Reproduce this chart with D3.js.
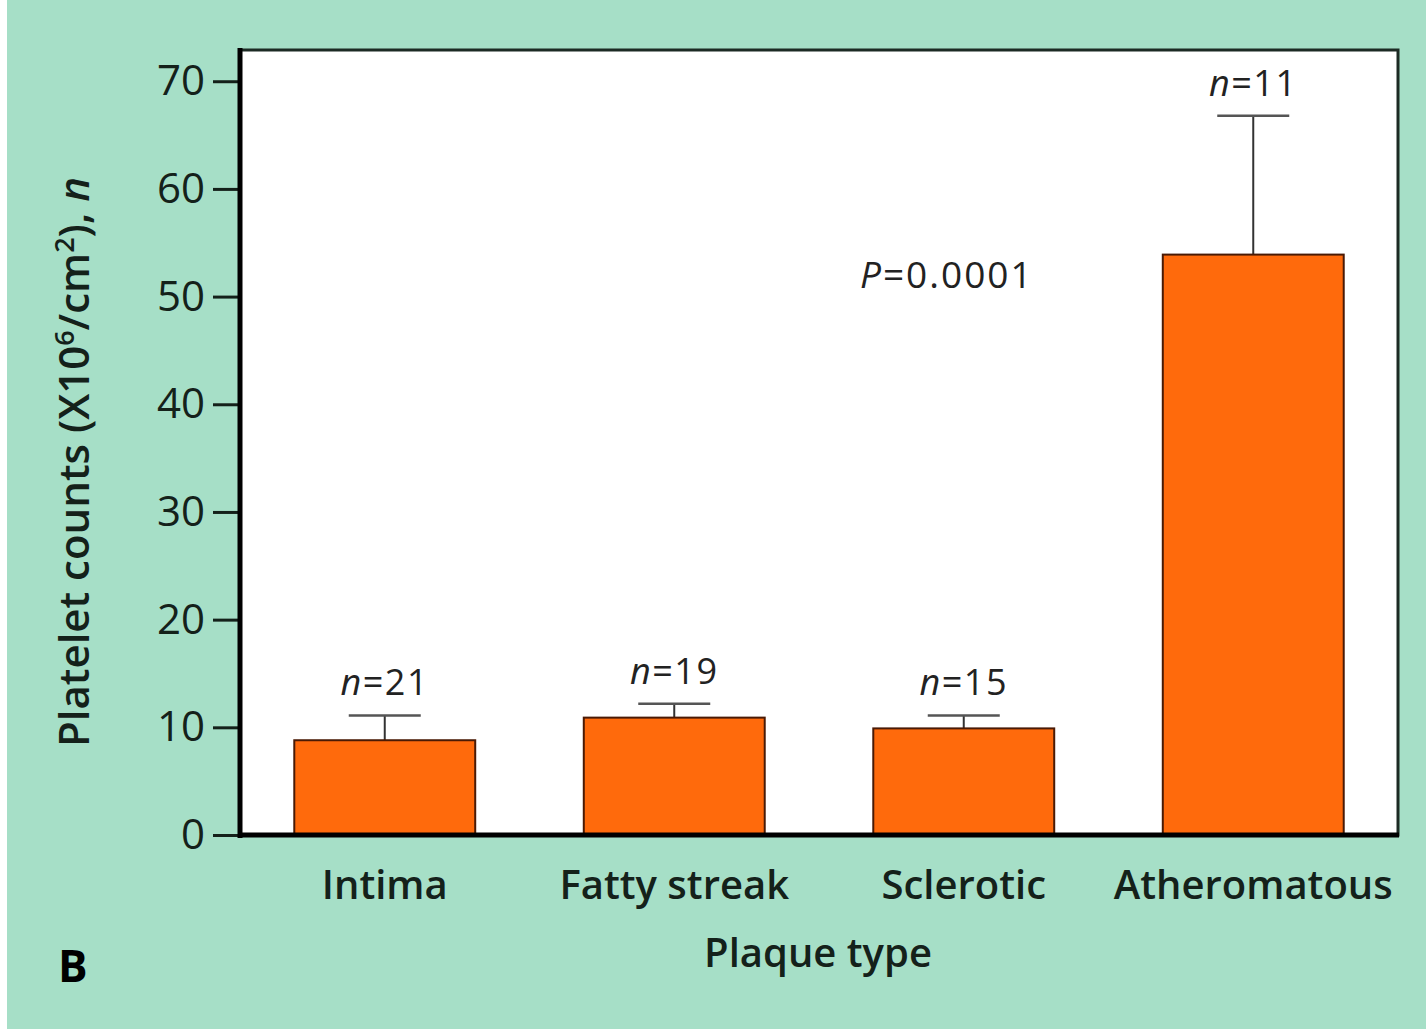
<!DOCTYPE html>
<html><head><meta charset="utf-8">
<script src="https://cdn.jsdelivr.net/npm/d3@7/dist/d3.min.js"></script>
<style>html,body{margin:0;padding:0;background:#fff;}svg{display:block;}</style>
</head><body><svg id="c" width="1426" height="1032"></svg>
<script>
const categories = ["Intima", "Fatty streak", "Sclerotic", "Atheromatous"];
const means = [8.8, 10.9, 9.9, 53.9];
const errorTops = [11.1, 12.2, 11.1, 66.8];
const nLabels = ["21", "19", "15", "11"];
const yTicks = [0, 10, 20, 30, 40, 50, 60, 70];

(function () {
const W = 1426, H = 1032;
const pL = 240, pR = 1398, pT = 50, pB = 835;
const font = "'Open Sans', 'Noto Sans', sans-serif";
const ink = "#14211a";

const svg = d3.select("#c");
svg.append("rect").attr("x", 7).attr("y", 0).attr("width", W - 7).attr("height", H - 3).attr("fill", "#a6dfc7");

const x = d3.scaleBand().domain(categories).range([pL, pR]).paddingInner(0.375).paddingOuter(0.1875);
const y = d3.scaleLinear().domain([0, 72.9]).range([pB, pT]);

// plot area
svg.append("rect").attr("x", pL).attr("y", pT).attr("width", pR - pL).attr("height", pB - pT)
  .attr("fill", "#ffffff").attr("stroke", "#1c2b24").attr("stroke-width", 3);

// error bars
const capW = 72;
const eb = svg.append("g");
categories.forEach((c, i) => {
  const cx = x(c) + x.bandwidth() / 2;
  eb.append("line").attr("x1", cx).attr("x2", cx).attr("y1", y(means[i])).attr("y2", y(errorTops[i]))
    .attr("stroke", "#333").attr("stroke-width", 2);
  eb.append("line").attr("x1", cx - capW / 2).attr("x2", cx + capW / 2).attr("y1", y(errorTops[i])).attr("y2", y(errorTops[i]))
    .attr("stroke", "#555").attr("stroke-width", 2.5);
});

// bars
svg.append("g").selectAll("rect").data(categories).join("rect")
  .attr("x", d => x(d)).attr("width", x.bandwidth())
  .attr("y", (d, i) => y(means[i])).attr("height", (d, i) => y(0) - y(means[i]))
  .attr("fill", "#ff6a0c").attr("stroke", "#4a1a05").attr("stroke-width", 2);

// n labels
const nl = svg.append("g").attr("font-family", font).attr("font-size", 36).attr("letter-spacing", 1.5)
  .attr("fill", "#222").attr("text-anchor", "middle");
categories.forEach((c, i) => {
  const t = nl.append("text").attr("x", x(c) + x.bandwidth() / 2).attr("y", y(errorTops[i]) - 20);
  t.append("tspan").attr("font-style", "italic").text("n");
  t.append("tspan").text("=" + nLabels[i]);
});

// P value
const pt = svg.append("text").attr("x", 860).attr("y", 288).attr("font-family", font).attr("font-size", 37)
  .attr("letter-spacing", 2).attr("fill", "#222");
pt.append("tspan").attr("font-style", "italic").text("P");
pt.append("tspan").text("=0.0001");

// y axis
const yAxis = svg.append("g").attr("transform", `translate(${pL},0)`)
  .call(d3.axisLeft(y).tickValues(yTicks).tickSize(27).tickPadding(8).tickFormat(d3.format("d")));
yAxis.select(".domain").remove();
yAxis.selectAll(".tick line").attr("stroke", ink).attr("stroke-width", 3);
yAxis.selectAll(".tick text").attr("font-family", font).attr("font-size", 42).attr("font-weight", 500).attr("fill", ink);
svg.append("line").attr("x1", pL).attr("x2", pL).attr("y1", pT - 2).attr("y2", pB + 3).attr("stroke", "#000").attr("stroke-width", 5);

// x axis
const xAxis = svg.append("g").attr("transform", `translate(0,${pB})`)
  .call(d3.axisBottom(x).tickSize(0).tickPadding(36));
xAxis.select(".domain").remove();
xAxis.selectAll(".tick text").attr("font-family", font).attr("font-size", 40).attr("fill", ink).attr("font-weight", 600);
svg.append("line").attr("x1", pL - 2).attr("x2", pR + 1).attr("y1", pB).attr("y2", pB).attr("stroke", "#000").attr("stroke-width", 5);

// axis titles
svg.append("text").attr("x", 818).attr("y", 967).attr("text-anchor", "middle")
  .attr("font-family", font).attr("font-size", 40).attr("font-weight", 600).attr("fill", ink).text("Plaque type");

const yt = svg.append("text").attr("transform", "translate(89,462) rotate(-90)").attr("text-anchor", "middle")
  .attr("font-family", font).attr("font-size", 42).attr("font-weight", 600).attr("fill", ink);
yt.append("tspan").text("Platelet counts (X10");
yt.append("tspan").attr("font-size", 27).attr("dy", -15).text("6");
yt.append("tspan").attr("dy", 15).text("/cm");
yt.append("tspan").attr("font-size", 27).attr("dy", -15).text("2");
yt.append("tspan").attr("dy", 15).text("), ");
yt.append("tspan").attr("font-style", "italic").text("n");

svg.append("text").attr("x", 58).attr("y", 982).attr("font-family", font).attr("font-size", 44)
  .attr("font-weight", 700).attr("fill", "#000").text("B");
})();
</script></body></html>
